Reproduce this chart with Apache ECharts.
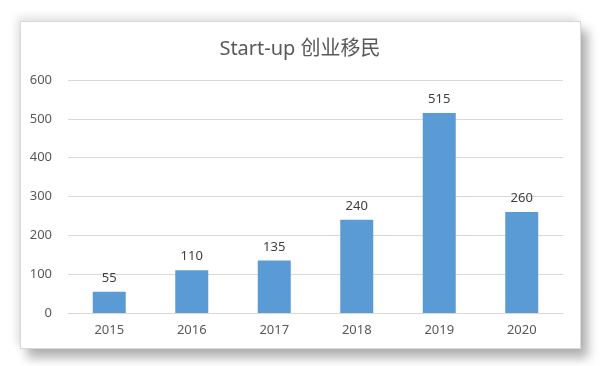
<!DOCTYPE html>
<html><head><meta charset="utf-8">
<script src="https://cdn.jsdelivr.net/npm/echarts@6/dist/echarts.min.js"></script>
<style>
html,body{margin:0;padding:0;background:#fff;}
#wrap{position:relative;width:600px;height:366px;overflow:hidden;background:#fff;}
#frame{position:absolute;left:20px;top:21px;width:559px;height:326px;border:1px solid #d9d9d9;background:#fff;
box-shadow:7px 9px 10px rgba(0,0,0,0.3), -3px -4px 8px rgba(0,0,0,0.12);}
#main{position:absolute;left:0;top:0;width:600px;height:366px;}
</style></head>
<body><div id="wrap"><div id="frame"></div><div id="main"></div></div>
<script>
const categories = ['2015','2016','2017','2018','2019','2020'];
const values = [55,110,135,240,515,260];
const titleText = 'Start-up 创业移民';
const ff = '"Noto Sans","Noto Sans CJK SC",sans-serif';
const chart = echarts.init(document.getElementById('main'), null, {renderer:'canvas'});
chart.setOption({
  backgroundColor:'transparent',
  animation:false,
  title:{text:titleText,left:'center',top:34,textStyle:{fontFamily:ff,fontSize:20,fontWeight:'normal',color:'#595959'}},
  grid:{left:68,right:37,top:80,bottom:53,containLabel:false},
  xAxis:{type:'category',data:categories,
    axisLine:{lineStyle:{color:'#d9d9d9',width:1}},axisTick:{show:false},
    axisLabel:{color:'#595959',fontFamily:ff,fontSize:13,margin:11}},
  yAxis:{type:'value',min:0,max:600,interval:100,
    axisLine:{show:false},axisTick:{show:false},
    splitLine:{lineStyle:{color:'#d9d9d9',width:1}},
    axisLabel:{color:'#595959',fontFamily:ff,fontSize:13,margin:16}},
  series:[{type:'bar',data:values,barWidth:'40%',itemStyle:{color:'#5B9BD5'},
    label:{show:true,position:'top',distance:7,color:'#404040',fontFamily:ff,fontSize:13}}]
});
</script></body></html>
